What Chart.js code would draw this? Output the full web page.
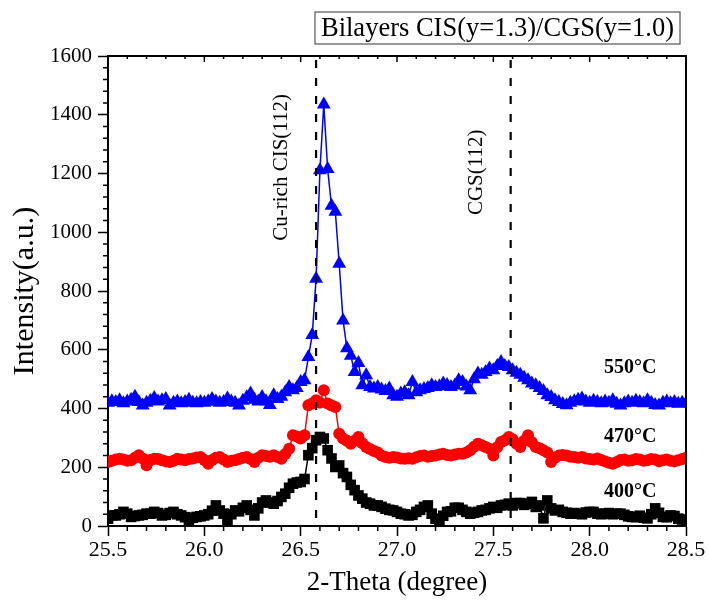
<!DOCTYPE html>
<html>
<head>
<meta charset="utf-8">
<script src="https://cdn.jsdelivr.net/npm/chart.js@4.4.1/dist/chart.umd.min.js"></script>
<style>
html, body { margin: 0; padding: 0; background: #fff; }
</style>
</head>
<body>
<canvas id="xrd" width="708" height="601"></canvas>
<script>
// Scan grid (2-Theta, degree)
var thetaStart = 25.5;
var thetaStep = 0.02;

// Intensity (a.u.), one value per scan step
var int400 = [
    25, 36, 36, 40, 48, 42, 31, 34, 36, 38,
    42, 42, 48, 44, 36, 38, 44, 48, 40, 36,
    30, 19, 28, 31, 33, 36, 40, 52, 70, 53,
    42, 19, 40, 53, 50, 62, 70, 55, 36, 60,
    80, 87, 80, 76, 85, 99, 110, 130, 144, 148,
    150, 160, 241, 265, 292, 303, 298, 258, 230, 201,
    206, 180, 167, 140, 122, 104, 93, 80, 76, 70,
    70, 65, 59, 55, 53, 48, 42, 40, 36, 38,
    48, 55, 65, 70, 42, 25, 19, 35, 48, 50,
    62, 62, 55, 48, 42, 45, 48, 53, 55, 60,
    65, 62, 70, 72, 76, 70, 78, 78, 72, 76,
    82, 65, 70, 26, 87, 60, 53, 55, 48, 45,
    42, 44, 42, 40, 46, 48, 48, 42, 40, 42,
    44, 40, 42, 42, 38, 33, 31, 30, 35, 28,
    26, 40, 60, 45, 31, 30, 36, 34, 25, 22,
    19
];
var int470 = [
    218, 222, 226, 229, 226, 222, 224, 232, 241, 230,
    207, 225, 229, 228, 224, 220, 218, 222, 229, 226,
    224, 228, 230, 233, 235, 225, 212, 225, 232, 235,
    226, 218, 222, 224, 228, 232, 235, 228, 218, 232,
    241, 238, 236, 241, 235, 229, 245, 263, 309, 305,
    298, 309, 411, 417, 428, 420, 462, 417, 410, 405,
    314, 298, 290, 280, 290, 303, 282, 269, 262, 255,
    250, 240, 235, 232, 235, 233, 230, 229, 231, 229,
    234, 238, 240, 236, 238, 240, 243, 246, 242, 240,
    243, 246, 246, 250, 258, 270, 280, 275, 269, 263,
    240, 268, 286, 292, 303, 295, 280, 269, 290, 309,
    285, 269, 265, 258, 250, 218, 232, 240, 242, 240,
    236, 235, 232, 235, 230, 228, 226, 230, 225, 220,
    215, 212, 218, 225, 226, 222, 224, 228, 226, 222,
    224, 228, 226, 220, 224, 226, 222, 220, 224, 228,
    232
];
var int550 = [
    420, 425, 422, 428, 418, 424, 430, 440, 422, 410,
    420, 426, 436, 424, 428, 432, 410, 420, 424, 418,
    422, 430, 420, 418, 422, 420, 424, 432, 424, 420,
    422, 434, 424, 420, 410, 426, 438, 451, 430, 424,
    439, 425, 412, 445, 432, 440, 455, 473, 462, 470,
    490, 496, 575, 650, 842, 1211, 1435, 1215, 1090, 1070,
    893, 700, 605, 580, 524, 555, 479, 513, 473, 468,
    473, 465, 460, 468, 445, 440, 451, 455, 445, 490,
    455, 462, 466, 470, 479, 473, 476, 485, 480, 473,
    478, 496, 490, 475, 462, 500, 519, 515, 524, 536,
    530, 545, 558, 545, 541, 530, 522, 515, 505, 496,
    485, 479, 470, 460, 445, 439, 428, 422, 415, 411,
    420, 425, 430, 434, 424, 420, 426, 422, 418, 424,
    420, 428, 416, 410, 418, 424, 420, 426, 422, 418,
    428, 420, 412, 410, 420, 424, 418, 422, 416, 420,
    418
];

var seriesLabels = ["400°C", "470°C", "550°C"];
var peakLines = [26.58, 27.59];
var peakNames = ["Cu-rich CIS(112)", "CGS(112)"];
var chartTitle = "Bilayers CIS(y=1.3)/CGS(y=1.0)";

var serif = '"Liberation Serif", "Times New Roman", serif';

function toPoints(values) {
    return values.map(function (v, i) {
        return { x: +(thetaStart + i * thetaStep).toFixed(2), y: v };
    });
}

function isMajorX(v) { return Math.abs(v * 2 - Math.round(v * 2)) < 1e-6; }
function isMajorY(v) { return Math.abs(v % 200) < 1e-6; }

// frame, minor ticks, peak markers and text
var decorations = {
    id: 'decorations',
    afterDatasetsDraw: function (chart) {
        var ctx = chart.ctx, a = chart.chartArea;
        var xs = chart.scales.x, ys = chart.scales.y;
        ctx.save();

        // dashed peak positions
        ctx.strokeStyle = '#000';
        ctx.lineWidth = 2.2;
        ctx.setLineDash([8, 10]);
        peakLines.forEach(function (p) {
            var px = xs.getPixelForValue(p);
            ctx.beginPath();
            ctx.moveTo(px, a.top + 4);
            ctx.lineTo(px, a.bottom);
            ctx.stroke();
        });
        ctx.setLineDash([]);

        // top and right border
        ctx.lineWidth = 2;
        ctx.beginPath();
        ctx.moveTo(a.left, a.top);
        ctx.lineTo(a.right, a.top);
        ctx.lineTo(a.right, a.bottom);
        ctx.stroke();

        // minor ticks + top ticks
        ctx.lineWidth = 1.5;
        xs.ticks.forEach(function (t) {
            var px = xs.getPixelForValue(t.value);
            ctx.beginPath();
            if (!isMajorX(t.value)) {
                ctx.moveTo(px, a.bottom);
                ctx.lineTo(px, a.bottom + 5);
            }
            ctx.moveTo(px, a.top);
            ctx.lineTo(px, a.top + (isMajorX(t.value) ? 6 : 3));
            ctx.stroke();
        });
        ys.ticks.forEach(function (t) {
            if (isMajorY(t.value)) return;
            var py = ys.getPixelForValue(t.value);
            ctx.beginPath();
            ctx.moveTo(a.left, py);
            ctx.lineTo(a.left - 5, py);
            ctx.stroke();
        });

        // peak names, rotated
        ctx.fillStyle = '#000';
        ctx.font = '21px ' + serif;
        ctx.textAlign = 'center';
        ctx.textBaseline = 'middle';
        var namePos = [[26.40, 1221], [27.41, 1204]];
        peakNames.forEach(function (n, i) {
            ctx.save();
            ctx.translate(xs.getPixelForValue(namePos[i][0]), ys.getPixelForValue(namePos[i][1]));
            ctx.rotate(-Math.PI / 2);
            ctx.fillText(n, 0, 0);
            ctx.restore();
        });

        // temperature labels
        ctx.font = 'bold 20px ' + serif;
        var tempPos = [115, 302, 537];
        seriesLabels.forEach(function (s, i) {
            ctx.fillText(s, xs.getPixelForValue(28.21), ys.getPixelForValue(tempPos[i]));
        });

        // boxed title
        ctx.font = '26.5px ' + serif;
        var w = ctx.measureText(chartTitle).width;
        var right = a.right - 6, top = a.top - 44;
        ctx.lineWidth = 1;
        ctx.strokeStyle = '#333';
        ctx.strokeRect(right - w - 12, top, w + 12, 32);
        ctx.textAlign = 'left';
        ctx.fillText(chartTitle, right - w - 6, top + 17);

        ctx.restore();
    }
};

var xrdChart = new Chart(document.getElementById('xrd'), {
    type: 'line',
    data: {
        datasets: [{
            label: seriesLabels[0],
            data: toPoints(int400),
            borderColor: '#000',
            backgroundColor: '#000',
            pointStyle: 'rect',
            pointRadius: 7.5
        }, {
            label: seriesLabels[1],
            data: toPoints(int470),
            borderColor: '#ff0000',
            backgroundColor: '#ff0000',
            pointStyle: 'circle',
            pointRadius: 6
        }, {
            label: seriesLabels[2],
            data: toPoints(int550),
            borderColor: '#0000ff',
            backgroundColor: '#0000ff',
            pointStyle: 'triangle',
            pointRadius: 8
        }]
    },
    options: {
        responsive: false,
        animation: false,
        devicePixelRatio: 1,
        layout: { padding: { top: 56, right: 22, left: 0, bottom: 0 } },
        elements: {
            line: { borderWidth: 1.5, tension: 0 },
            point: { borderWidth: 0, hoverRadius: 8 }
        },
        plugins: {
            legend: { display: false },
            tooltip: { enabled: false }
        },
        scales: {
            x: {
                type: 'linear',
                min: 25.5,
                max: 28.5,
                afterFit: function (s) { s.height = 75; },
                ticks: {
                    stepSize: 0.1,
                    autoSkip: false,
                    maxRotation: 0,
                    padding: 1,
                    color: '#000',
                    font: { family: serif, size: 22 },
                    callback: function (v) { return isMajorX(v) ? v.toFixed(1) : ''; }
                },
                grid: {
                    drawOnChartArea: false,
                    tickLength: 10,
                    tickWidth: 1.5,
                    tickColor: function (c) { return c.tick && isMajorX(c.tick.value) ? '#000' : 'rgba(0,0,0,0)'; }
                },
                border: { color: '#000', width: 2 },
                title: {
                    display: true,
                    text: '2-Theta (degree)',
                    color: '#000',
                    font: { family: serif, size: 27 },
                    padding: { top: 0, bottom: 2 }
                }
            },
            y: {
                min: 0,
                max: 1600,
                afterFit: function (s) { s.width = 108; },
                ticks: {
                    stepSize: 40,
                    autoSkip: false,
                    padding: 6,
                    color: '#000',
                    font: { family: serif, size: 21 },
                    callback: function (v) { return isMajorY(v) ? v : ''; }
                },
                grid: {
                    drawOnChartArea: false,
                    tickLength: 10,
                    tickWidth: 1.5,
                    tickColor: function (c) { return c.tick && isMajorY(c.tick.value) ? '#000' : 'rgba(0,0,0,0)'; }
                },
                border: { color: '#000', width: 2 },
                title: {
                    display: true,
                    text: 'Intensity(a.u.)',
                    color: '#000',
                    font: { family: serif, size: 30 },
                    padding: { top: 7, bottom: 0 }
                }
            }
        }
    },
    plugins: [decorations]
});
</script>
</body>
</html>
